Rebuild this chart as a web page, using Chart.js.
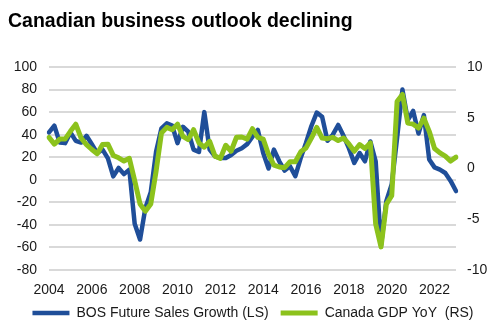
<!DOCTYPE html>
<html>
<head>
<meta charset="utf-8">
<script src="https://cdn.jsdelivr.net/npm/chart.js@4/dist/chart.umd.min.js"></script>
<style>
  html, body { margin: 0; padding: 0; background: #fff; }
  #wrap { width: 498px; height: 330px; }
</style>
</head>
<body>
<div id="wrap"><canvas id="outlookChart" width="498" height="330"></canvas></div>
<script>
// Kuartal 2004Q1 .. 2023Q1
const quarters = [];
for (let y = 2004; y <= 2023; y++) {
  for (let q = 1; q <= 4; q++) {
    if (y === 2023 && q > 1) break;
    quarters.push(y + 'Q' + q);
  }
}

const yearTicks = ['2004', '2006', '2008', '2010', '2012', '2014', '2016', '2018', '2020', '2022'];

// BOS Future Sales Growth (sumbu kiri)
const bosSales = [
  42, 48, 33, 32.5, 42, 34.5, 33, 39, 31.5, 23.7,
  26.7, 19, 3, 10.5, 5, 9, -39, -53, -25, -11,
  25, 45.6, 50, 48, 32.5, 47, 42.7, 26.7, 24.6, 60,
  26.7, 20.8, 19.3, 19.3, 22, 25.8, 28, 31.6, 38.3, 44.2,
  23.7, 10, 26.7, 16.4, 8.2, 12, 3.2, 19.3, 32.8, 47.7,
  59.6, 55.9, 34.6, 40, 48.6, 39, 28, 15, 23.7, 16.4,
  34, 16.4, -58, -18.7, -4, 37, 80, 53, 61, 41,
  57.4, 18, 11, 9, 6, -1, -10
];

// Canada GDP YoY (sumbu kanan)
const gdpYoY = [
  3.07, 2.4, 2.9, 2.9, 3.66, 4.37, 3.0, 2.36, 1.87, 1.45,
  2.36, 2.4, 1.29, 1.05, 0.73, 1.0, -1.2, -3.5, -4.2, -3.5,
  -0.25, 3.5, 4.05, 3.82, 4.37, 3.17, 2.85, 3.82, 2.52, 2.1,
  2.68, 1.22, 1.0, 2.29, 1.7, 3.07, 3.1, 2.9, 3.92, 3.07,
  2.9, 1.38, 0.34, 0.15, 0.08, 0.66, 0.66, 1.64, 2.03, 3.0,
  4.05, 3.0, 2.94, 3.07, 2.75, 3.0, 2.42, 1.7, 2.36, 1.97,
  2.52, -5.45, -7.72, -3.5, -2.68, 6.6, 7.3, 4.47, 4.37, 3.98,
  4.96, 3.66, 1.97, 1.54, 1.22, 0.73, 1.12
];

const BLUE = '#1F4E99';
const GREEN = '#8CC21C';

Chart.defaults.font.family = 'Arial, "Liberation Sans", sans-serif';
Chart.defaults.color = '#1a1a1a';

const ctx = document.getElementById('outlookChart').getContext('2d');
new Chart(ctx, {
  type: 'line',
  data: {
    labels: quarters,
    datasets: [{
      label: 'BOS Future Sales Growth (LS)',
      data: bosSales,
      yAxisID: 'yLeft',
      borderColor: BLUE,
      backgroundColor: BLUE,
      borderWidth: 4.5,
      pointRadius: 0,
      tension: 0,
      borderJoinStyle: 'round',
      borderCapStyle: 'round',
      order: 2
    }, {
      label: 'Canada GDP YoY  (RS)',
      data: gdpYoY,
      yAxisID: 'yRight',
      borderColor: GREEN,
      backgroundColor: GREEN,
      borderWidth: 5,
      pointRadius: 0,
      tension: 0,
      borderJoinStyle: 'round',
      borderCapStyle: 'round',
      order: 1
    }]
  },
  options: {
    responsive: false,
    animation: false,
    layout: { padding: { left: 8, right: 0, top: 0, bottom: 0 } },
    plugins: {
      title: {
        display: true,
        text: 'Canadian business outlook declining',
        align: 'start',
        color: '#000',
        font: { size: 19.5, weight: 'bold' },
        padding: { top: 10, bottom: 33.6 }
      },
      legend: {
        position: 'bottom',
        labels: {
          usePointStyle: true,
          pointStyle: 'line',
          pointStyleWidth: 37,
          font: { size: 14 },
          padding: 12,
          sort: (a, b) => a.datasetIndex - b.datasetIndex
        }
      },
      tooltip: { enabled: false }
    },
    scales: {
      x: {
        type: 'category',
        offset: false,
        grid: { display: false },
        border: { display: false },
        ticks: {
          autoSkip: false,
          maxRotation: 0,
          padding: 4,
          font: { size: 14 },
          callback: function (val, idx) {
            const lbl = quarters[idx];
            const yr = lbl.slice(0, 4);
            return (lbl.endsWith('Q1') && yearTicks.includes(yr)) ? yr : '';
          }
        },
        afterFit: scale => { scale.height = 24; }
      },
      yLeft: {
        position: 'left',
        min: -80,
        max: 100,
        grid: { color: '#d9d9d9', lineWidth: 2, drawTicks: false },
        border: { display: false },
        ticks: { stepSize: 20, padding: 12, font: { size: 14 } },
        afterFit: scale => { scale.width = 41; }
      },
      yRight: {
        position: 'right',
        min: -10,
        max: 10,
        grid: { display: false, drawTicks: false },
        border: { display: false },
        ticks: { stepSize: 5, padding: 11, font: { size: 14 } },
        afterFit: scale => { scale.width = 42; }
      }
    }
  }
});
</script>
</body>
</html>
